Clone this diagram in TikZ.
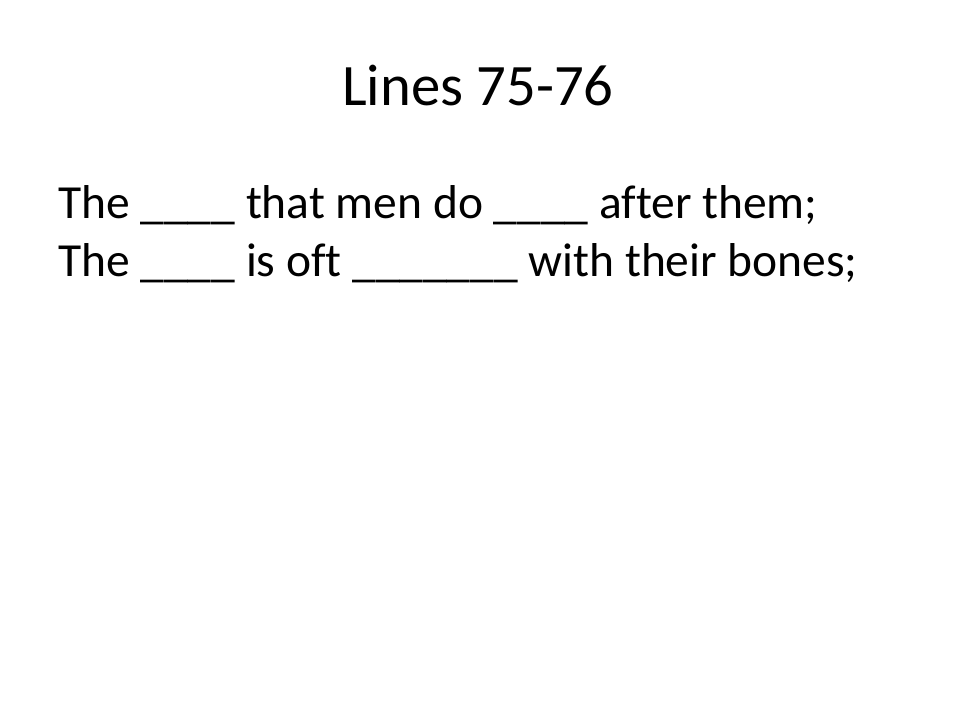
\documentclass[tikz,border=0pt]{standalone}
\usepackage{fontspec}
\setmainfont{Carlito}[Ligatures=NoCommon]
\begin{document}
\begin{tikzpicture}[x=1pt,y=-1pt,
  title/.style={font=\fontsize{58.7}{70}\selectfont, inner sep=0pt},
  body/.style={font=\fontsize{47.5}{57}\selectfont, inner sep=0pt, anchor=base west}]
\useasboundingbox[fill=white] (0,0) rectangle (960,720);
\node[title, anchor=base] (t) at (478,105) {Lines 75-76};
\node[body] (l1) at (58,218) {The \_\_\_\_ that men do \_\_\_\_ after them;};
\node[body] (l2) at (58,276) {The \_\_\_\_ is oft \_\_\_\_\_\_\_ with their bones;};
\end{tikzpicture}
\end{document}
